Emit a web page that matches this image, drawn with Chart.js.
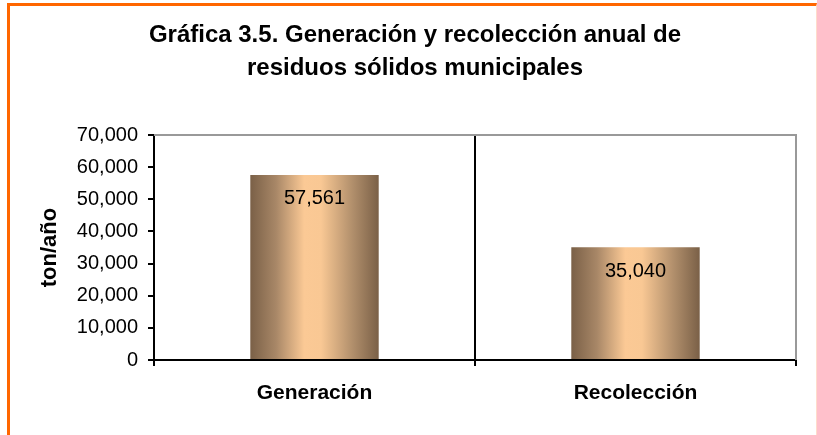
<!DOCTYPE html>
<html>
<head>
<meta charset="utf-8">
<title>Gráfica 3.5</title>
<script src="https://cdn.jsdelivr.net/npm/chart.js@4"></script>
<style>
    body { margin: 0; background: #fff; }
    #wrap { position: relative; width: 817px; height: 435px; overflow: hidden; }
    #frame {
        position: absolute; left: 7px; top: 3px; width: 806px; height: 500px;
        border-top: 3px solid #ff6600; border-left: 3px solid #ff6600; border-right: 1px solid #ffdccb;
    }
    #myChart { position: absolute; left: 0; top: 0; }
</style>
</head>
<body>
<div id="wrap">
    <div id="frame"></div>
    <canvas id="myChart" width="830" height="435"></canvas>
</div>
<script>
const categories = ['Generación', 'Recolección'];
const values = [57561, 35040];
const yTicks = [0, 10000, 20000, 30000, 40000, 50000, 60000, 70000];
const titleLines = ['Gráfica 3.5. Generación y recolección anual de', 'residuos sólidos municipales'];
const yTitle = 'ton/año';

(function(){
    'use strict';

    const ctx = document.querySelector('#myChart');
    const fontFamily = 'Arial, "Liberation Sans", sans-serif';

    function fmt(v){
        return Number(v).toLocaleString('en-US');
    }

    //cylinder-like shading across each bar
    function barGradient(context){
        const chart = context.chart;
        const x = chart.scales.x;
        if (!x || !chart.chartArea) return '#e0b080';
        const cx = x.getPixelForValue(context.dataIndex);
        const w = x.width / categories.length * 0.4;
        const g = chart.ctx.createLinearGradient(cx - w / 2, 0, cx + w / 2, 0);
        g.addColorStop(0, '#7a6047');
        g.addColorStop(0.2, '#a88767');
        g.addColorStop(0.42, '#fbc995');
        g.addColorStop(0.55, '#f9c894');
        g.addColorStop(0.8, '#b08e6b');
        g.addColorStop(1, '#7a6047');
        return g;
    }

    //gray frame on top and right of the plot area
    const plotFrame = {
        id: 'plotFrame',
        beforeDatasetsDraw(chart){
            const a = chart.chartArea;
            const c = chart.ctx;
            c.save();
            c.strokeStyle = '#999999';
            c.lineWidth = 2;
            c.beginPath();
            c.moveTo(a.left, a.top);
            c.lineTo(a.right, a.top);
            c.lineTo(a.right, a.bottom);
            c.stroke();
            c.restore();
        }
    };

    //value labels inside bars
    const valueLabels = {
        id: 'valueLabels',
        afterDatasetsDraw(chart){
            const c = chart.ctx;
            const meta = chart.getDatasetMeta(0);
            c.save();
            c.fillStyle = '#000';
            c.font = '20px ' + fontFamily;
            c.textAlign = 'center';
            c.textBaseline = 'middle';
            meta.data.forEach(function(bar, i){
                c.fillText(fmt(values[i]), bar.x, bar.y + 24);
            });
            c.restore();
        }
    };

    new Chart(ctx, {
        type: 'bar',
        data: {
            labels: categories,
            datasets: [
                {
                    label: 'ton/año',
                    data: values,
                    backgroundColor: barGradient,
                    borderWidth: 0,
                    barPercentage: 0.4,
                    categoryPercentage: 1
                }
            ]
        },
        options: {
            responsive: false,
            animation: false,
            layout: { padding: 0 },
            plugins: {
                legend: { display: false },
                tooltip: { enabled: false },
                title: {
                    display: true,
                    text: titleLines,
                    color: '#000',
                    font: { family: fontFamily, size: 24, weight: 'bold', lineHeight: 1.375 },
                    padding: { top: 19, bottom: 50 }
                }
            },
            scales: {
                x: {
                    afterFit: function(scale){ scale.height = 75; },
                    grid: {
                        offset: true,
                        drawOnChartArea: true,
                        lineWidth: 2,
                        tickLength: 6,
                        tickColor: '#000',
                        color: function(c){
                            if (c.index === 0) return 'rgba(0,0,0,0)';
                            if (c.index === categories.length) return '#999999';
                            return '#000';
                        }
                    },
                    border: { color: '#000', width: 2 },
                    ticks: {
                        color: '#000',
                        padding: 15,
                        font: { family: fontFamily, size: 21, weight: 'bold' }
                    }
                },
                y: {
                    min: yTicks[0],
                    max: yTicks[yTicks.length - 1],
                    afterFit: function(scale){ scale.width = 154; },
                    afterBuildTicks: function(scale){
                        scale.ticks = yTicks.map(function(v){ return { value: v }; });
                    },
                    grid: {
                        drawOnChartArea: false,
                        drawTicks: true,
                        tickLength: 6,
                        lineWidth: 2,
                        color: '#000'
                    },
                    border: { color: '#000', width: 2 },
                    ticks: {
                        color: '#000',
                        padding: 10,
                        font: { family: fontFamily, size: 20 },
                        callback: function(v){ return fmt(v); }
                    },
                    title: {
                        display: true,
                        text: yTitle,
                        color: '#000',
                        font: { family: fontFamily, size: 22, weight: 'bold' },
                        padding: { top: 37, bottom: 0 }
                    }
                },
                // empty spacer on the right so the plot ends at x=796
                spacer: {
                    type: 'linear',
                    position: 'right',
                    afterFit: function(scale){ scale.width = 34; },
                    grid: { display: false },
                    border: { display: false },
                    ticks: { display: false }
                }
            }
        },
        plugins: [plotFrame, valueLabels]
    });
})();
</script>
</body>
</html>
